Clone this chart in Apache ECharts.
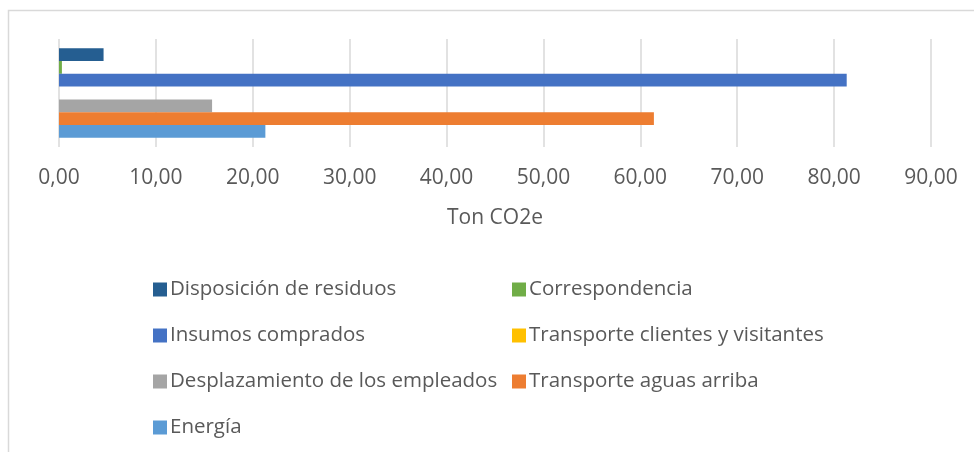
<!DOCTYPE html>
<html>
<head>
<meta charset="utf-8">
<script src="https://cdn.jsdelivr.net/npm/echarts@6/dist/echarts.min.js"></script>
<style>
  html, body { margin: 0; padding: 0; background: #fff; }
  #chart { width: 974px; height: 452px; }
</style>
</head>
<body>
<div id="chart"></div>
<script>
// datos (orden de las series de arriba hacia abajo)
const categories = ["Total"];
const seriesNames = [
  "Disposición de residuos",
  "Correspondencia",
  "Insumos comprados",
  "Transporte clientes y visitantes",
  "Desplazamiento de los empleados",
  "Transporte aguas arriba",
  "Energía"
];
const seriesValues = [4.6, 0.3, 81.3, 0, 15.8, 61.4, 21.3];
const seriesColors = ["#255E91", "#70AD47", "#4472C4", "#FFC000", "#A5A5A5", "#ED7D31", "#5B9BD5"];
const xTicks = { min: 0, max: 90, interval: 10 };

// columnas de la leyenda
const legendLeft = ["Disposición de residuos", "Insumos comprados", "Desplazamiento de los empleados", "Energía"];
const legendRight = ["Correspondencia", "Transporte clientes y visitantes", "Transporte aguas arriba"];

const textColor = "#595959";
const font = "'Open Sans', sans-serif";

function legendAt(left, names) {
  return {
    orient: "vertical",
    left: left,
    top: 274,
    data: names,
    itemWidth: 14,
    itemHeight: 14,
    itemGap: 25,
    icon: "rect",
    textStyle: { color: textColor, fontFamily: font, fontSize: 20.5, lineHeight: 20, padding: [0, 0, 0, -2] },
    selectedMode: false
  };
}

const chart = echarts.init(document.getElementById("chart"));
chart.setOption({
  animation: false,
  backgroundColor: "#fff",
  graphic: [{
    type: "rect",
    shape: { x: 8.5, y: 10.5, width: 980, height: 460 },
    style: { fill: null, stroke: "#d9d9d9", lineWidth: 1.5 }
  }],
  legend: [legendAt(148, legendLeft), legendAt(507, legendRight)],
  grid: { left: 59, right: 43, top: 39, bottom: 305, containLabel: false },
  xAxis: {
    type: "value",
    min: xTicks.min,
    max: xTicks.max,
    interval: xTicks.interval,
    axisLine: { show: false },
    axisTick: { show: false },
    splitLine: { lineStyle: { color: "#d9d9d9", width: 1.5 } },
    axisLabel: {
      color: textColor,
      fontFamily: font,
      fontSize: 21,
      margin: 21,
      formatter: v => v.toFixed(2).replace(".", ",")
    },
    name: "Ton CO2e",
    nameLocation: "middle",
    nameGap: 61,
    nameTextStyle: { color: textColor, fontFamily: font, fontSize: 21 }
  },
  yAxis: {
    type: "category",
    data: categories,
    axisLine: { show: false },
    axisTick: { show: false },
    axisLabel: { show: false }
  },
  series: seriesNames.map((name, i) => ({
    name: name,
    type: "bar",
    data: [seriesValues[i]],
    barWidth: 12.8,
    barGap: "0%",
    itemStyle: { color: seriesColors[i] }
  }))
});
</script>
</body>
</html>
